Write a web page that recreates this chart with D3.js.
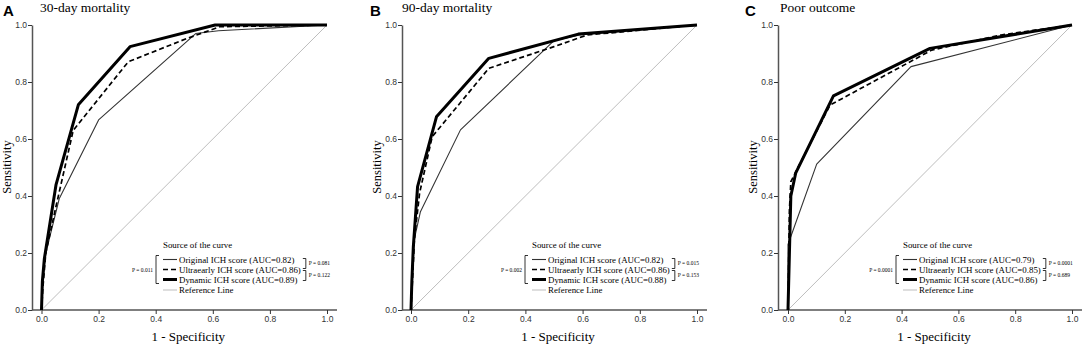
<!DOCTYPE html>
<html>
<head>
<meta charset="utf-8">
<script src="https://cdn.jsdelivr.net/npm/d3@7"></script>
<style>
  body { margin: 0; background: #fff; }
  svg { display: block; }
</style>
</head>
<body>
<script>
// panel titles
const panelLetters = ["A", "B", "C"]
const panelTitles = ["30-day mortality", "90-day mortality", "Poor outcome"]
const seriesNames = ["Original ICH score", "Ultraearly ICH score", "Dynamic ICH score"]
const axisTicks = [0, 0.2, 0.4, 0.6, 0.8, 1.0]

// AUC per panel : original, ultraearly, dynamic
const aucA = [0.82, 0.86, 0.89]
const aucB = [0.82, 0.86, 0.88]
const aucC = [0.79, 0.85, 0.86]

// p values : original vs ultraearly, ultraearly vs dynamic, original vs dynamic
const pA = ["0.081", "0.122", "0.011"]
const pB = ["0.015", "0.153", "0.002"]
const pC = ["0.0001", "0.689", "0.0001"]

// ROC points [1 - specificity, sensitivity]
const rocA_original = [[0, 0], [0.005, 0.1], [0.015, 0.2], [0.062, 0.39], [0.2, 0.667], [0.54, 0.97], [0.62, 0.98], [1, 1]]
const rocA_ultra = [[0, 0], [0.005, 0.08], [0.015, 0.2], [0.05, 0.36], [0.111, 0.63], [0.304, 0.871], [0.51, 0.953], [0.625, 0.994], [1, 1]]
const rocA_dynamic = [[0, 0], [0.003, 0.1], [0.01, 0.18], [0.051, 0.44], [0.129, 0.72], [0.31, 0.924], [0.608, 1.0], [1, 1]]

const rocB_original = [[0, 0], [0.005, 0.12], [0.012, 0.25], [0.033, 0.345], [0.173, 0.632], [0.5, 0.945], [0.59, 0.965], [1, 1]]
const rocB_ultra = [[0, 0], [0.005, 0.1], [0.012, 0.25], [0.03, 0.41], [0.074, 0.608], [0.272, 0.848], [0.5, 0.924], [0.616, 0.965], [1, 1]]
const rocB_dynamic = [[0, 0], [0.003, 0.1], [0.008, 0.22], [0.023, 0.433], [0.089, 0.678], [0.272, 0.883], [0.585, 0.968], [1, 1]]

const rocC_original = [[0, 0], [0, 0.23], [0.101, 0.512], [0.433, 0.854], [1, 1]]
const rocC_ultra = [[0, 0], [0.005, 0.35], [0.01, 0.45], [0.03, 0.49], [0.148, 0.719], [0.506, 0.912], [0.75, 0.965], [1, 1]]
const rocC_dynamic = [[0, 0], [0.005, 0.2], [0.01, 0.4], [0.027, 0.48], [0.16, 0.751], [0.5, 0.918], [1, 1]]

const referenceLine = [[0, 0], [1, 1]]

const WIDTH = 1084
const HEIGHT = 349

const panels = [
  { axisX: 32, x0: 41.5, x1: 327, letterX: 3, titleX: 40, legendX: 163, aucs: aucA, ps: pA, curves: [rocA_original, rocA_ultra, rocA_dynamic] },
  { axisX: 402, x0: 411, x1: 697, letterX: 370, titleX: 402, legendX: 532, aucs: aucB, ps: pB, curves: [rocB_original, rocB_ultra, rocB_dynamic] },
  { axisX: 778, x0: 788, x1: 1072, letterX: 745, titleX: 780, legendX: 903, aucs: aucC, ps: pC, curves: [rocC_original, rocC_ultra, rocC_dynamic] }
]

// line look for each series
const styles = [
  { stroke: "#333", width: 1.1, dash: null },
  { stroke: "#000", width: 1.7, dash: "5,3" },
  { stroke: "#000", width: 3, dash: null }
]

const SERIF = "'Liberation Serif', 'Times New Roman', serif"
const SANS = "'Liberation Sans', Arial, sans-serif"
const LEGEND_FONT = 8.9

const svg = d3.select("body").append("svg")
  .attr("width", WIDTH)
  .attr("height", HEIGHT)

panels.forEach((p, k) => {
  const g = svg.append("g")

  const x = d3.scaleLinear().domain([0, 1]).range([p.x0, p.x1])
  const y = d3.scaleLinear().domain([0, 1]).range([310, 25])

  // letter + title
  g.append("text")
    .attr("x", p.letterX).attr("y", 16)
    .attr("font-family", SANS).attr("font-weight", "bold").attr("font-size", 15)
    .text(panelLetters[k])
  g.append("text")
    .attr("x", p.titleX).attr("y", 12)
    .attr("font-family", SERIF).attr("font-size", 13.5)
    .text(panelTitles[k])

  // y axis
  const yAxis = g.append("g")
    .attr("transform", `translate(${p.axisX},0)`)
    .call(d3.axisLeft(y).tickValues(axisTicks).tickFormat(d3.format(".1f")).tickSize(4).tickSizeOuter(0))
  // x axis
  const xAxis = g.append("g")
    .attr("transform", "translate(0,310)")
    .call(d3.axisBottom(x).tickValues(axisTicks).tickFormat(d3.format(".1f")).tickSize(4).tickSizeOuter(0))
  xAxis.select(".domain").attr("d", `M${p.axisX},0H${p.x1 + 10}`)

  ;[yAxis, xAxis].forEach(a => {
    a.select(".domain").attr("stroke", "#555").attr("stroke-width", 1.5)
    a.selectAll(".tick line").attr("stroke", "#333")
    a.selectAll(".tick text").attr("font-family", SANS).attr("font-size", 8.5).attr("fill", "#333")
  })
  yAxis.selectAll(".tick text").attr("x", -5)
  xAxis.selectAll(".tick text").attr("y", 6)

  // axis titles
  g.append("text")
    .attr("transform", `translate(${p.axisX - 21},167) rotate(-90)`)
    .attr("text-anchor", "middle")
    .attr("font-family", SERIF).attr("font-size", 12.5)
    .text("Sensitivity")

  g.append("text")
    .attr("x", (p.x0 + p.x1) / 2 + 4).attr("y", 341)
    .attr("text-anchor", "middle")
    .attr("font-family", SERIF).attr("font-size", 13)
    .text("1 - Specificity")

  const line = d3.line().x(d => x(d[0])).y(d => y(d[1]))

  // reference
  g.append("path")
    .attr("d", line(referenceLine))
    .attr("fill", "none").attr("stroke", "#bdbdbd").attr("stroke-width", 1)

  p.curves.forEach((c, i) => {
    g.append("path")
      .attr("d", line(c))
      .attr("fill", "none")
      .attr("stroke", styles[i].stroke)
      .attr("stroke-width", styles[i].width)
      .attr("stroke-dasharray", styles[i].dash)
      .attr("stroke-linejoin", "round")
  })

  // legend
  const lg = g.append("g").attr("transform", `translate(${p.legendX},0)`)
  lg.append("text")
    .attr("x", 0).attr("y", 248)
    .attr("font-family", SERIF).attr("font-size", LEGEND_FONT)
    .text("Source of the curve")

  const rowY = [259.5, 269.5, 279.5, 290]
  const labels = seriesNames.map((n, i) => `${n} (AUC=${p.aucs[i].toFixed(2)})`).concat(["Reference Line"])
  const legendStyles = styles.concat([{ stroke: "#bdbdbd", width: 1, dash: null }])
  let maxW = 0
  labels.forEach((t, i) => {
    lg.append("line")
      .attr("x1", 0).attr("x2", 14).attr("y1", rowY[i]).attr("y2", rowY[i])
      .attr("stroke", legendStyles[i].stroke)
      .attr("stroke-width", legendStyles[i].width)
      .attr("stroke-dasharray", legendStyles[i].dash)
    const txt = lg.append("text")
      .attr("x", 16).attr("y", rowY[i] + 3)
      .attr("font-family", SERIF).attr("font-size", LEGEND_FONT)
      .text(t)
    if (i < 3) maxW = Math.max(maxW, txt.node().getComputedTextLength())
  })

  // right brackets between neighbouring rows
  const bx = 16 + maxW + 2
  ;[[0, 1], [1, 2]].forEach((pair, j) => {
    const ya = rowY[pair[0]] + (j === 0 ? -1 : 1), yb = rowY[pair[1]] + (j === 0 ? -1 : 1)
    lg.append("path")
      .attr("d", `M${bx},${ya}H${bx + 3}V${yb}H${bx}`)
      .attr("fill", "none").attr("stroke", "#000").attr("stroke-width", 0.8)
    lg.append("text")
      .attr("x", bx + 6).attr("y", (ya + yb) / 2 + 1.8)
      .attr("font-family", SERIF).attr("font-size", 5.5)
      .text(`P = ${p.ps[j]}`)
  })

  // left bracket original vs dynamic
  lg.append("path")
    .attr("d", `M-4,${rowY[0] - 4}H-7V${rowY[2] + 4}H-4`)
    .attr("fill", "none").attr("stroke", "#000").attr("stroke-width", 0.8)
  lg.append("text")
    .attr("x", -10).attr("y", rowY[1] + 2)
    .attr("text-anchor", "end")
    .attr("font-family", SERIF).attr("font-size", 5.5)
    .text(`P = ${p.ps[2]}`)
})
</script>
</body>
</html>
